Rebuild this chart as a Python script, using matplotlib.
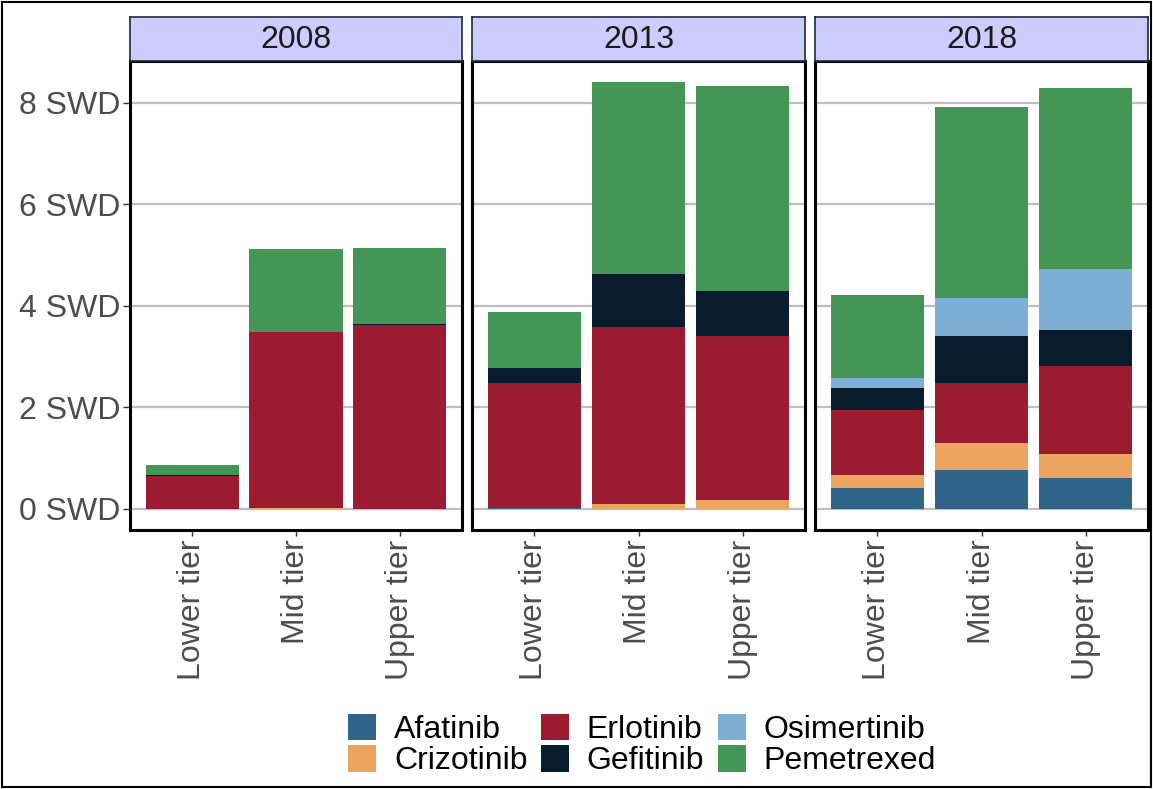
import numpy as np
import matplotlib.pyplot as plt
from matplotlib.patches import Rectangle, Patch

plt.rcParams['font.family'] = ['Liberation Sans', 'DejaVu Sans']

# data
years = ['2008', '2013', '2018']
tiers = ['Lower tier', 'Mid tier', 'Upper tier']
drugs = ['Afatinib', 'Crizotinib', 'Erlotinib', 'Gefitinib', 'Osimertinib', 'Pemetrexed']
colors = ['#306489', '#EBA55E', '#9B1C31', '#081C2E', '#7EAED3', '#439656']

# values per year, one value per tier
afatinib = {'2008': [0.0, 0.0, 0.0], '2013': [0.02, 0.0, 0.0], '2018': [0.41, 0.77, 0.61]}
crizotinib = {'2008': [0.0, 0.01, 0.0], '2013': [0.0, 0.10, 0.18], '2018': [0.26, 0.53, 0.46]}
erlotinib = {'2008': [0.65, 3.47, 3.62], '2013': [2.45, 3.48, 3.22], '2018': [1.27, 1.17, 1.74]}
gefitinib = {'2008': [0.02, 0.0, 0.02], '2013': [0.30, 1.04, 0.89], '2018': [0.43, 0.93, 0.71]}
osimertinib = {'2008': [0.0, 0.0, 0.0], '2013': [0.0, 0.0, 0.0], '2018': [0.20, 0.75, 1.20]}
pemetrexed = {'2008': [0.20, 1.64, 1.50], '2013': [1.10, 3.78, 4.03], '2018': [1.64, 3.77, 3.56]}
series = [afatinib, crizotinib, erlotinib, gefitinib, osimertinib, pemetrexed]

yticks = [0, 2, 4, 6, 8]
ytick_labels = ['%d SWD' % v for v in yticks]

W, H = 1153, 789
FS = 23
fig = plt.figure(figsize=(W / 100, H / 100), dpi=100)

# 外框
fig.patches.append(Rectangle((0.002, 0.002), 0.996, 0.996, transform=fig.transFigure,
                             fill=False, edgecolor='black', linewidth=1.5))

panel_x = [(130, 462), (472, 805), (815, 1148)]
panel_top, panel_bottom, strip_top = 61, 530, 17

x = np.arange(len(tiers))
for i, year in enumerate(years):
    x0, x1 = panel_x[i]
    ax = fig.add_axes([x0 / W, 1 - panel_bottom / H, (x1 - x0) / W, (panel_bottom - panel_top) / H])
    bottom = np.zeros(len(tiers))
    for s, c in zip(series, colors):
        vals = np.array(s[year])
        ax.bar(x, vals, width=0.9, bottom=bottom, color=c, zorder=2)
        bottom += vals
    ax.set_xlim(-0.6, 2.6)
    ax.set_ylim(-0.42, 8.82)
    ax.set_yticks(yticks)
    ax.grid(axis='y', color='#bebebe', linewidth=1.6, zorder=0)
    ax.set_xticks(x)
    ax.set_xticklabels(tiers, rotation=90, fontsize=FS, color='#4d4d4d')
    ax.tick_params(axis='x', length=4, width=1, color='#333333', pad=3)
    if i == 0:
        ax.set_yticklabels(ytick_labels, fontsize=FS, color='#4d4d4d')
        ax.tick_params(axis='y', length=5, width=1, color='#333333', pad=2)
    else:
        ax.tick_params(axis='y', left=False, labelleft=False)
    for sp in ax.spines.values():
        sp.set_linewidth(2.2)
        sp.set_color('black')

    # strip
    sax = fig.add_axes([x0 / W, 1 - panel_top / H, (x1 - x0) / W, (panel_top - strip_top) / H])
    sax.set_facecolor('#CCCCFF')
    sax.set_xticks([])
    sax.set_yticks([])
    for sp in sax.spines.values():
        sp.set_linewidth(1.2)
        sp.set_color('#1a2a3a')
    sax.text(0.5, 0.48, year, transform=sax.transAxes, ha='center', va='center',
             fontsize=FS, color='#1a1a1a')

# 图例
handles = [Patch(facecolor=c, label=d) for d, c in zip(drugs, colors)]
fig.legend(handles=handles, loc='center', bbox_to_anchor=(642 / W, 1 - 745 / H), ncol=3,
           frameon=False, fontsize=FS, handlelength=0.88, handleheight=0.9,
           handletextpad=0.55, columnspacing=0.42, labelspacing=0.0, borderpad=0)

fig.savefig('out.png', dpi=100)
